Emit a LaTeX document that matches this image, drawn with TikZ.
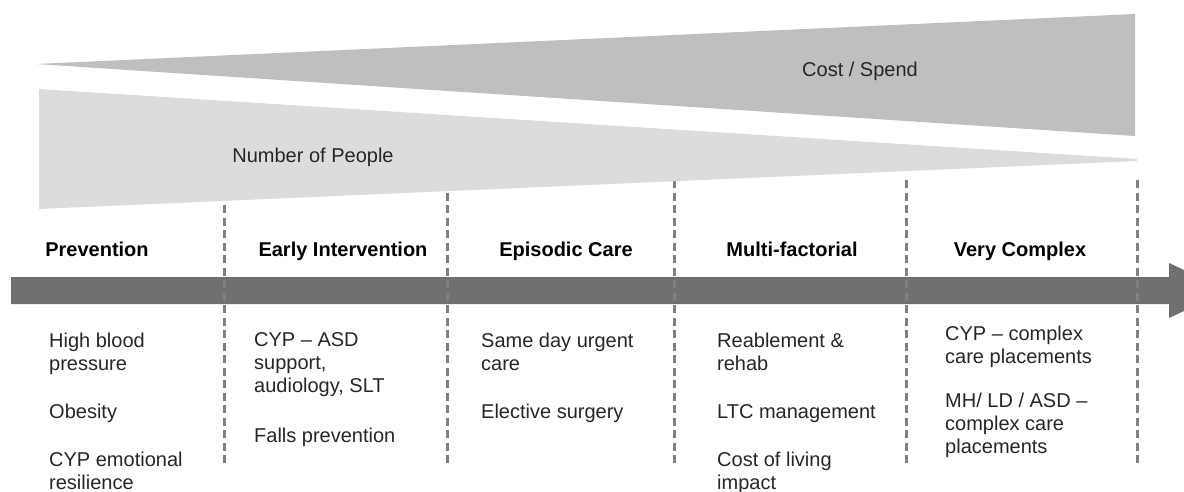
\documentclass[tikz,border=0pt]{standalone}
\usepackage{fontspec}
\setmainfont{Liberation Sans}
\definecolor{costgrey}{HTML}{BFBFBF}
\definecolor{peoplegrey}{HTML}{DCDCDC}
\definecolor{arrowgrey}{HTML}{707070}
\definecolor{dashgrey}{HTML}{808080}
\tikzset{
    divider/.style={draw=dashgrey, line width=3pt, dash pattern=on 8pt off 4.5pt},
    caption/.style={font=\fontsize{20}{23}\selectfont, text=black!85, anchor=base, inner sep=0},
    phase/.style={font=\fontsize{20}{23}\selectfont\bfseries, anchor=base, inner sep=0},
    item/.style={font=\fontsize{20}{23}\selectfont, text=black!85, align=left, anchor=north west, inner sep=0}
}

\begin{document}
\begin{tikzpicture}[x=1pt, y=-1pt]
    \useasboundingbox (0,0) rectangle (1184,491);
    % timeline arrow
    \fill[arrowgrey] (11,277) -- (1169,277) -- (1169,263) -- (1228,290.5)
        -- (1169,318) -- (1169,304) -- (11,304) -- cycle;
    % column dividers
    \foreach \x [count=\i] in {224,447,674,906,1137}
        \draw[divider] (\x,180) coordinate (d\i top) -- (\x,463) coordinate (d\i bot);
    % wedges
    \fill[costgrey] (36,64) -- (1135,14) -- (1135,136) -- cycle;
    \fill[peoplegrey] (39,89) -- (1137,159) -- (1137,161) -- (39,209) -- cycle;
    \node[caption] (cost) at (860,76) {Cost / Spend};
    \node[caption] (people) at (313,162) {Number of People};
    % phases
    \node[phase] (prev) at (97,256) {Prevention};
    \node[phase] (early) at (343,256) {Early Intervention};
    \node[phase] (epis) at (566,256) {Episodic Care};
    \node[phase] (multi) at (792,256) {Multi-factorial};
    \node[phase] (complex) at (1020,256) {Very Complex};
    % examples
    \node[item] (prevlist) at (49,332.6) {High blood\\pressure\\[25pt]Obesity\\[25pt]CYP emotional\\resilience};
    \node[item] (earlylist) at (254,332.6) {CYP -- ASD\\support,\\audiology, SLT\\[27pt]Falls prevention};
    \node[item] (epislist) at (481,332.6) {Same day urgent\\care\\[25pt]Elective surgery};
    \node[item] (multilist) at (717,332.6) {Reablement \&\\rehab\\[25pt]LTC management\\[25pt]Cost of living\\impact};
    \node[item] (complexlist) at (945,325.6) {CYP -- complex\\care placements\\[21pt]MH/ LD / ASD --\\complex care\\placements};
\end{tikzpicture}
\end{document}
